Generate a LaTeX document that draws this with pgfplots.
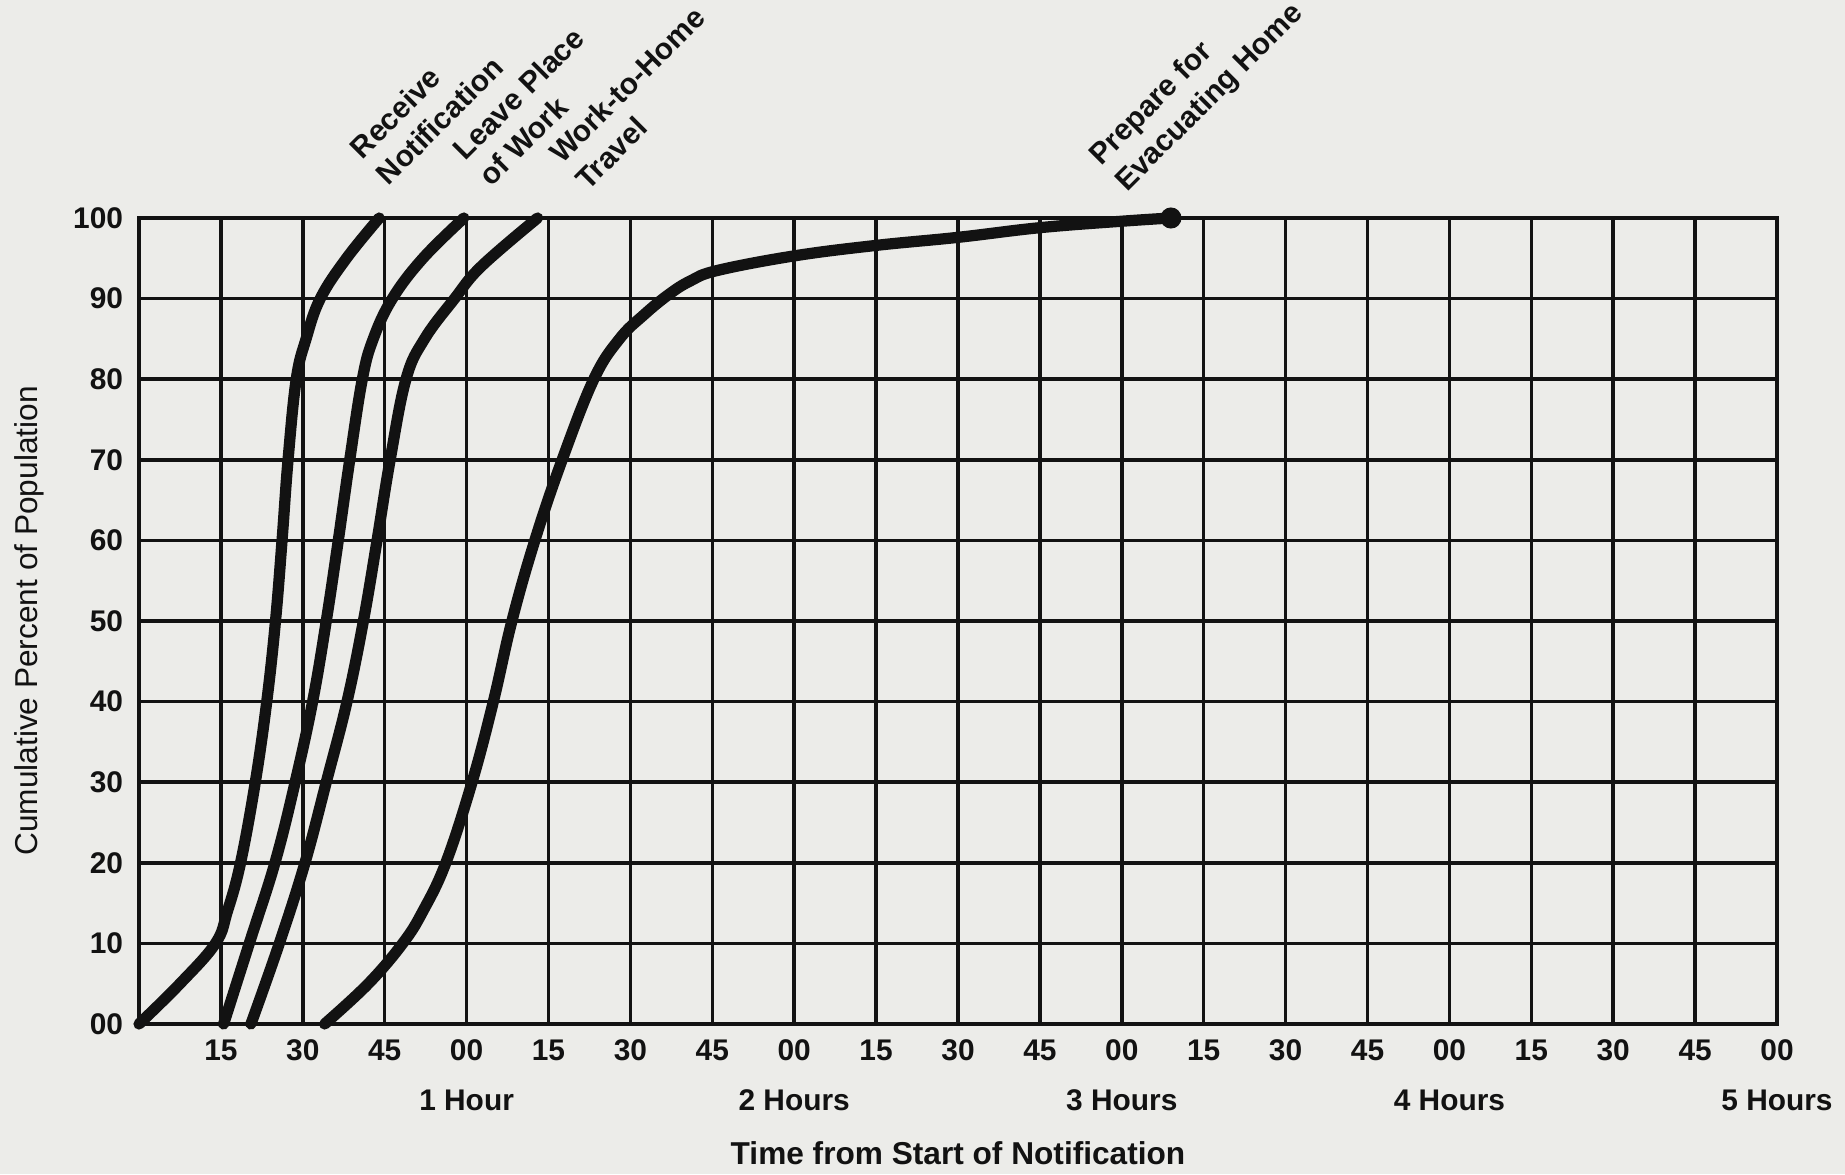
\documentclass[border=0pt]{standalone}
\usepackage{fontspec}
\setmainfont{Liberation Sans}
\usepackage{pgfplots}
\pgfplotsset{compat=1.18}
\definecolor{paper}{RGB}{236,236,233}
\definecolor{ink}{RGB}{18,18,18}
\begin{document}
\begin{tikzpicture}
\useasboundingbox (0,0) rectangle (18.45cm,11.74cm);
\fill[paper] (0,0) rectangle (18.45cm,11.74cm);
\begin{axis}[
  at={(1.39cm,1.50cm)}, anchor=south west,
  width=16.38cm, height=8.06cm, scale only axis,
  xmin=0, xmax=300, ymin=0, ymax=100,
  clip=false,
  xtick={15,30,...,300},
  xticklabels={15,30,45,{00\\[4pt]1 Hour},15,30,45,{00\\[4pt]2 Hours},15,30,45,{00\\[4pt]3 Hours},15,30,45,{00\\[4pt]4 Hours},15,30,45,{00\\[4pt]5 Hours}},
  ytick={0,10,...,100},
  yticklabels={00,10,20,30,40,50,60,70,80,90,100},
  major tick length=0pt,
  grid=major,
  grid style={ink, line width=1pt},
  axis line style={ink, line width=1.2pt},
  ticklabel style={font=\bfseries\fontsize{8.5}{10}\selectfont, text=ink},
  xticklabel style={align=center, yshift=-1pt},
  yticklabel style={xshift=-1pt},
  xlabel={Time from Start of Notification},
  every axis x label/.style={at={(axis description cs:0.5,-0.16)}, anchor=center, font=\bfseries\fontsize{9}{11}\selectfont, text=ink},
  ylabel={Cumulative Percent of Population},
  every axis y label/.style={at={(axis description cs:-0.0672,0.5)}, anchor=center, rotate=90, font=\fontsize{9}{11}\selectfont, text=ink},
]
% Receive Notification
\addplot[ink, line width=3.2pt, smooth, tension=0.65, line cap=round] coordinates {
 (0,0) (7.5,5) (14,10) (16.2,14) (18.6,20) (21.3,30) (23.4,40) (25,50) (26.2,60) (27.3,70) (28.8,80) (30.6,85) (33.2,90) (38,95) (44,100)};
% Leave Place of Work
\addplot[ink, line width=3.2pt, smooth, tension=0.65, line cap=round] coordinates {
 (15.5,0) (20.2,10) (24.9,20) (28.6,30) (31.8,40) (34.3,50) (36.5,60) (38.6,70) (40.9,80) (42.9,85) (46.4,90) (52,95) (59.5,100)};
% Work-to-Home Travel
\addplot[ink, line width=3.2pt, smooth, tension=0.65, line cap=round] coordinates {
 (20.5,0) (25.7,10) (30.4,20) (34.3,30) (38.1,40) (41.1,50) (43.6,60) (46,70) (48.9,80) (52.3,85) (57.8,90) (62.7,94) (73,100)};
% Prepare for Evacuating Home
\addplot[ink, line width=3.2pt, smooth, tension=0.65, line cap=round] coordinates {
 (34,0) (42,5) (48.3,10) (52,14) (56.2,20) (61,30) (64.9,40) (68.3,50) (72.5,60) (77.5,70) (83.3,80) (88,85) (92.5,88) (97,90.5) (101,92.2) (106,93.5) (120,95.3) (135,96.6) (150,97.6) (165,98.8) (180,99.6) (189,100)};
\addplot[ink, only marks, mark=*, mark size=2.8pt] coordinates {(189,100)};
% labels
\begin{scope}[every node/.style={rotate=45, anchor=south west, align=left, inner sep=0pt, font=\bfseries\fontsize{8.5}{10.5}\selectfont, text=ink}]
\node at (axis cs:45.8,103.8) {Receive\\Notification};
\node at (axis cs:64.6,103.6) {Leave Place\\of Work};
\node at (axis cs:82.3,103.2) {Work-to-Home\\Travel};
\node at (axis cs:181.8,102.5) {Prepare for\\Evacuating Home};
\end{scope}
\end{axis}
\end{tikzpicture}
\end{document}
